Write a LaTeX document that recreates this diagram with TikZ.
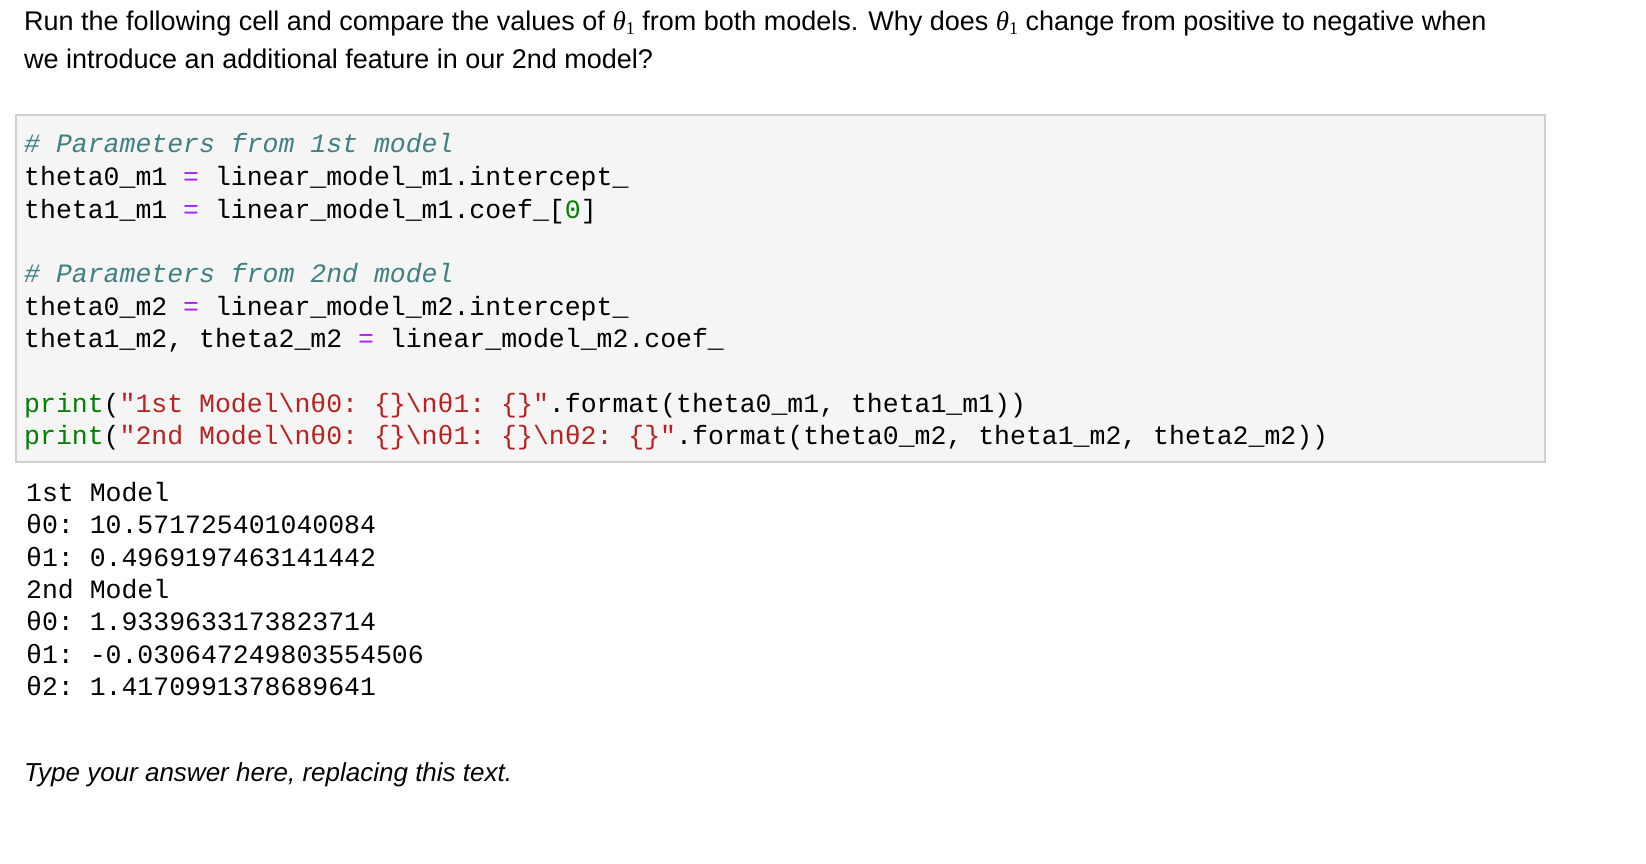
\documentclass[tikz,border=0pt]{standalone}
\usepackage{fontspec}
\setmainfont{Liberation Sans}
\setmonofont{Liberation Mono}
\newfontfamily\serifth{Liberation Serif}
\newcommand{\thone}{{\serifth\itshape θ\raisebox{-0.25ex}{\upshape\fontsize{18}{20}\selectfont 1}}}
\definecolor{cmt}{HTML}{408080}
\definecolor{kw}{HTML}{008000}
\definecolor{str}{HTML}{BA2121}
\definecolor{op}{HTML}{AA22FF}
\definecolor{boxbg}{HTML}{F5F5F5}
\definecolor{boxbd}{HTML}{CFCFCF}
\begin{document}
\begin{tikzpicture}[x=1pt,y=-1pt,
  txt/.style={anchor=base west,inner sep=0pt,font=\fontsize{27}{30}\selectfont},
  code/.style={anchor=base west,inner sep=0pt,font=\ttfamily\fontsize{26.5}{30}\selectfont}]
\useasboundingbox[fill=white] (0,0) rectangle (1646,864);
\node[txt] (h1) at (24,31) {Run the following cell and compare the values of \thone\ from both models. Why does \thone\ change from positive to negative when};
\node[txt] (h2) at (24,69) {we introduce an additional feature in our 2nd model?};
\draw[boxbd,fill=boxbg,line width=1.5pt] (16,115) rectangle (1545,462);
\node[code] (c1) at (24,153) {\color{cmt}\itshape\# Parameters from 1st model};
\node[code] (c2) at (24,185) {theta0\_m1 {\color{op}=} linear\_model\_m1.intercept\_};
\node[code] (c3) at (24,218) {theta1\_m1 {\color{op}=} linear\_model\_m1.coef\_[{\color{kw}0}]};
\node[code] (c4) at (24,282) {\color{cmt}\itshape\# Parameters from 2nd model};
\node[code] (c5) at (24,315) {theta0\_m2 {\color{op}=} linear\_model\_m2.intercept\_};
\node[code] (c6) at (24,347) {theta1\_m2, theta2\_m2 {\color{op}=} linear\_model\_m2.coef\_};
\node[code] (c7) at (24,412) {{\color{kw}print}({\color{str}"1st Model\textbackslash nθ0: \{\}\textbackslash nθ1: \{\}"}.format(theta0\_m1, theta1\_m1))};
\node[code] (c8) at (24,444) {{\color{kw}print}({\color{str}"2nd Model\textbackslash nθ0: \{\}\textbackslash nθ1: \{\}\textbackslash nθ2: \{\}"}.format(theta0\_m2, theta1\_m2, theta2\_m2))};
\node[code] (o1) at (26,501) {1st Model};
\node[code] (o2) at (26,533) {θ0: 10.571725401040084};
\node[code] (o3) at (26,566) {θ1: 0.4969197463141442};
\node[code] (o4) at (26,598) {2nd Model};
\node[code] (o5) at (26,630) {θ0: 1.9339633173823714};
\node[code] (o6) at (26,663) {θ1: -0.030647249803554506};
\node[code] (o7) at (26,695) {θ2: 1.4170991378689641};
\node[txt,font=\itshape\fontsize{26}{30}\selectfont] (ans) at (24,781) {Type your answer here, replacing this text.};
\end{tikzpicture}
\end{document}
